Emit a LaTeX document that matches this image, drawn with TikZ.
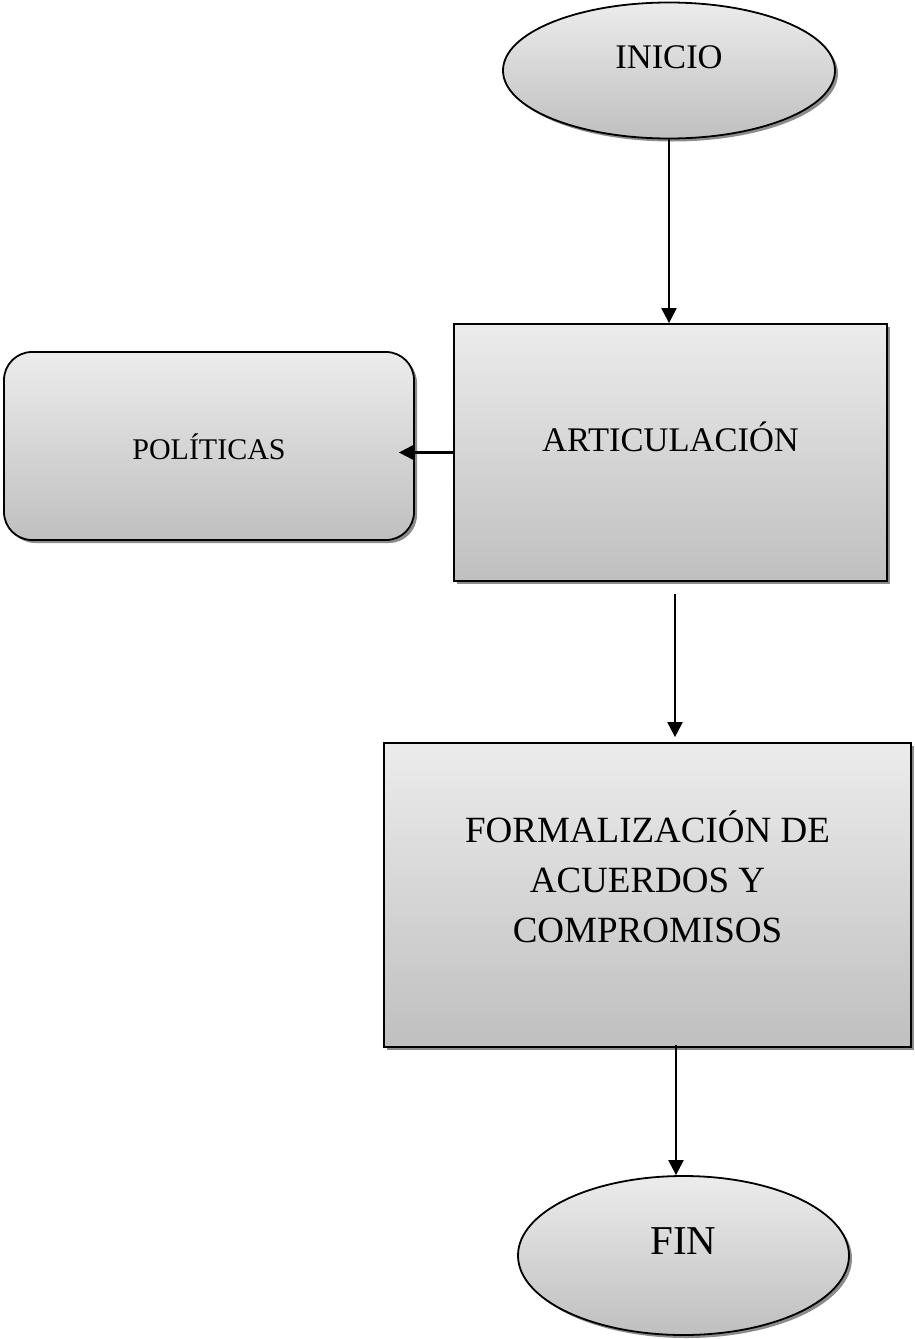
\documentclass[tikz,border=0pt]{standalone}
\usepackage{fontspec}
\setmainfont{Liberation Serif}
\usetikzlibrary{shapes.geometric,shadows,arrows.meta}
\begin{document}
\begin{tikzpicture}[x=1pt,y=-1pt,
  box/.style={draw=black, line width=1.8pt, top color=gray!15, bottom color=gray!50,
    drop shadow={shadow xshift=3pt, shadow yshift=-3pt, fill=black!45, opacity=1},
    inner sep=0pt},
  term/.style={box, ellipse},
  proc/.style={box, rectangle},
  arr/.style={line width=2.2pt, -{Triangle[length=15pt,width=15pt]}}
]
\useasboundingbox (0,0) rectangle (914,1339);

\node[term, minimum width=332pt, minimum height=136pt,
  font=\fontsize{34.5}{40}\selectfont, text height=22.8pt, text depth=26pt]
  (ini) at (669,70.5) {INICIO};

\node[proc, minimum width=433pt, minimum height=257pt,
  font=\fontsize{34.5}{40}\selectfont, text height=22.8pt, text depth=24pt]
  (art) at (670.5,452.5) {ARTICULACIÓN};

\node[proc, rounded corners=28pt, minimum width=410pt, minimum height=188pt,
  font=\fontsize{30}{36}\selectfont, text height=26.9pt, text depth=0pt]
  (pol) at (209,446) {POLÍTICAS};

\node[proc, minimum width=527pt, minimum height=304pt, align=center,
  font=\fontsize{37}{50}\selectfont, text height=94pt, text depth=0pt]
  (form) at (647.5,895) {FORMALIZACIÓN DE\\ACUERDOS Y\\COMPROMISOS};

\node[term, minimum width=331pt, minimum height=159pt,
  font=\fontsize{41}{48}\selectfont, text height=27.1pt, text depth=30pt]
  (fin) at (683.5,1255.5) {FIN};

\draw[arr] (ini.south) -- (ini.south |- art.north);
\draw[arr] (art.west) -- ([xshift=-16pt]pol.east |- art.west);
\draw[arr] ([xshift=4.5pt,yshift=-12pt]art.south) coordinate (a2) -- ([yshift=5pt]a2 |- form.north);
\draw[arr] ([xshift=28.5pt,yshift=3pt]form.south) coordinate (a3) -- (a3 |- fin.north);
\end{tikzpicture}
\end{document}
